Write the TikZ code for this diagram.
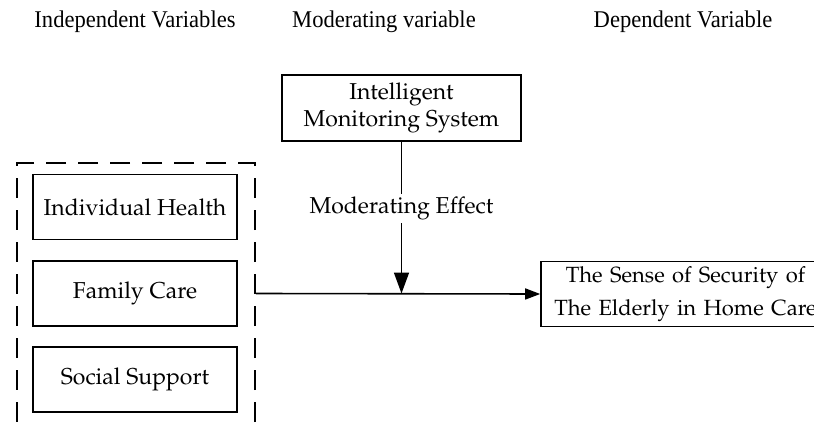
\documentclass[tikz,border=0pt]{standalone}
\usepackage[T1]{fontenc}
\usepackage{fontspec}
\setmainfont{Liberation Serif}
\newfontfamily\headfont{Liberation Serif}[FakeStretch=0.94]
\usetikzlibrary{arrows.meta}

\newcommand{\palfont}{\fontencoding{T1}\fontfamily{ppl}\selectfont}

\tikzset{
  head/.style={font=\headfont\fontsize{24}{28}\selectfont},
  var/.style={draw, line width=1.6pt, minimum width=204pt, minimum height=65pt,
    inner sep=0pt, align=center, font=\palfont\fontsize{23}{27}\selectfont},
  group/.style={draw, line width=1.6pt, dash pattern=on 20pt off 12pt,
    minimum width=238pt, minimum height=277pt, inner sep=0pt},
  link/.style={line width=1.6pt, -{Triangle[length=15pt,width=11pt]}}
}

\begin{document}
\begin{tikzpicture}[x=1pt,y=-1pt]
\useasboundingbox (0,0) rectangle (814,423);
\clip (0,0) rectangle (814,423);

\draw (135,22) node[head] (hind) {Independent Variables};
\draw (384,22) node[head] (hmod) {Moderating variable};
\draw (683,22) node[head] (hdep) {Dependent Variable};

% independent variables, grouped in a dashed frame
\draw (136,301.5) node[group] (grp) {};
\draw (135,207) node[var] (ih) {Individual Health};
\draw (135,293.5) node[var] (fc) {Family Care};
\draw (135,379.5) node[var] (ss) {Social Support};

\draw (401.5,108) node[var, minimum width=239pt, minimum height=66pt] (ims)
  {Intelligent\\Monitoring System};
\draw (685.5,294) node[var, minimum width=289pt, text width=289pt,
  font=\palfont\fontsize{22}{33}\selectfont] (ses)
  {The Sense of Security of\\The Elderly in Home Care};

\draw[link] (grp.east |- fc) -- (ses.west);
\draw[link, -{Triangle[length=21pt,width=15pt]}] (ims.south) --
  node[pos=0.44, fill=white, inner sep=3pt,
  font=\palfont\fontsize{23}{27}\selectfont] (eff) {Moderating Effect}
  (ims.south |- fc);
\end{tikzpicture}
\end{document}
